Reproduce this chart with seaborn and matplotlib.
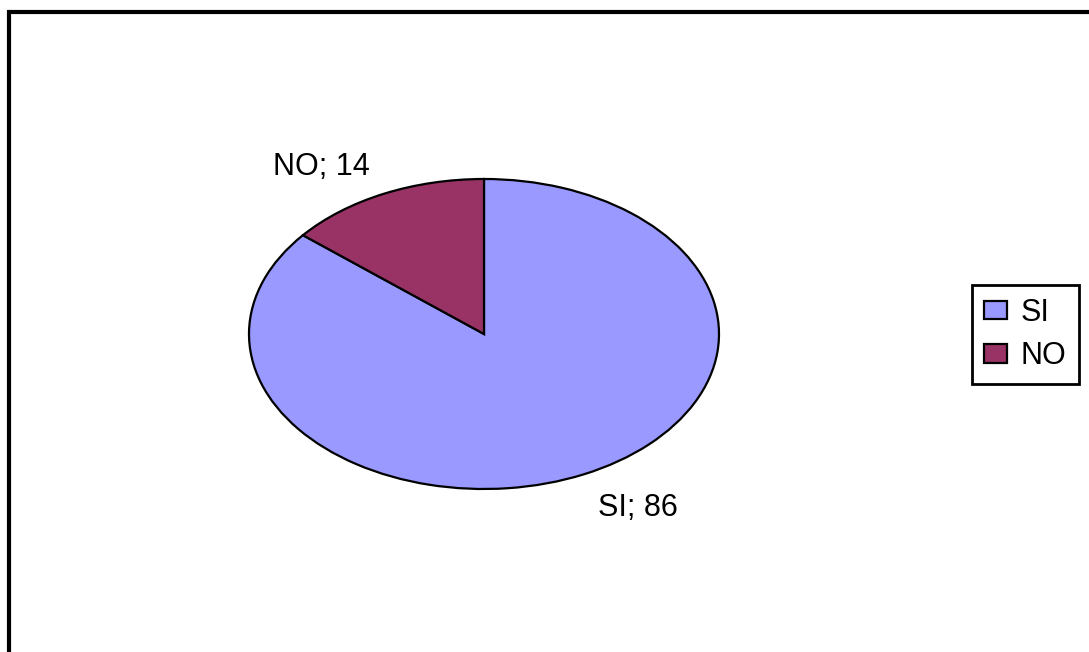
import matplotlib
matplotlib.use("Agg")
import matplotlib.pyplot as plt
import matplotlib.patches as mpatches
import seaborn as sns

# === Data ===
categories = ["SI", "NO"]
values = [86, 14]
colors = ["#9999FF", "#993366"]
label_pos = [(0.655, -1.12), (-0.69, 1.08)]

sns.set_theme(style="white")
plt.rcParams["font.family"] = ["Liberation Sans", "DejaVu Sans"]
plt.rcParams["text.color"] = "black"

fig = plt.figure(figsize=(10.89, 6.52), dpi=100)
fig.patch.set_facecolor("white")

# elliptical pie: axes box sized to the ellipse
ax = fig.add_axes([249 / 1089, 1 - 489 / 652, 470 / 1089, 310 / 652])
wedges, _ = ax.pie(values, colors=colors, startangle=90, counterclock=False,
                   wedgeprops=dict(edgecolor="black", linewidth=1.6))
ax.set_aspect("auto")
ax.set_xlim(-1, 1)
ax.set_ylim(-1, 1)
ax.axis("off")

for name, val, (x, y) in zip(categories, values, label_pos):
    ax.text(x, y, f"{name}; {val}", ha="center", va="center",
            fontsize=22, color="black", clip_on=False)

# chart frame (runs off the right and bottom edges)
frame = mpatches.Rectangle((9 / 1089, -0.1), 1.2, 1 - 12 / 652 + 0.1,
                           transform=fig.transFigure, fill=False,
                           edgecolor="black", linewidth=3, clip_on=False)
fig.patches.append(frame)

leg = fig.legend(wedges, categories, loc="center",
                 bbox_to_anchor=(1025.5 / 1089, 1 - 334.5 / 652),
                 fontsize=22, frameon=True, fancybox=False,
                 handlelength=0.75, handleheight=0.55, handletextpad=0.45,
                 labelspacing=0.45, borderpad=0.4, borderaxespad=0)
for t in leg.get_texts():
    t.set_color("black")
leg.get_frame().set_edgecolor("black")
leg.get_frame().set_linewidth(2)
leg.get_frame().set_alpha(1)

fig.savefig("out.png", dpi=100)
